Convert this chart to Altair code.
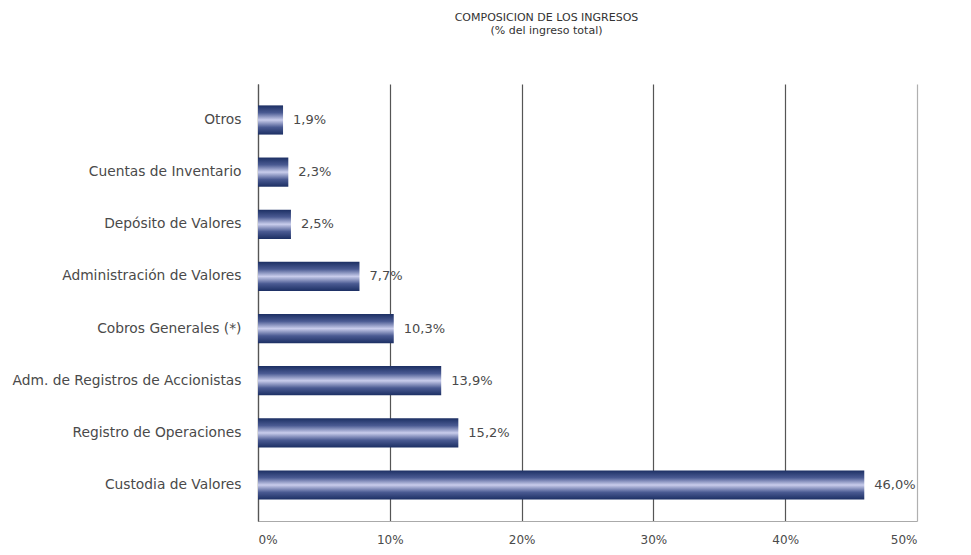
import altair as alt
import pandas as pd

categories = [
    "Otros",
    "Cuentas de Inventario",
    "Depósito de Valores",
    "Administración de Valores",
    "Cobros Generales (*)",
    "Adm. de Registros de Accionistas",
    "Registro de Operaciones",
    "Custodia de Valores",
]
values = [1.9, 2.3, 2.5, 7.7, 10.3, 13.9, 15.2, 46.0]
labels = ["1,9%", "2,3%", "2,5%", "7,7%", "10,3%", "13,9%", "15,2%", "46,0%"]
x_ticks = [0, 10, 20, 30, 40, 50]

df = pd.DataFrame({"cat": categories, "val": values, "lab": labels})

FONT = "DejaVu Sans, sans-serif"
TXT = "#4a4a4a"

y_enc = alt.Y(
    "cat:N",
    sort=categories,
    title=None,
    scale=alt.Scale(paddingInner=0.44, paddingOuter=0.41),
    axis=alt.Axis(
        domain=True, domainColor="#555555", domainWidth=1.2,
        ticks=False, labelPadding=17, labelFont=FONT, labelFontSize=13.8,
        labelColor=TXT, grid=False, labelLimit=300,
    ),
)

x_enc = alt.X(
    "val:Q",
    title=None,
    scale=alt.Scale(domain=[0, 50], nice=False),
    axis=alt.Axis(
        values=x_ticks,
        labelExpr="datum.value + '%'",
        domain=True, domainColor="#aaaaaa", domainWidth=1.2,
        ticks=False, labelPadding=13, labelFont=FONT, labelFontSize=12,
        labelColor=TXT,
        grid=True,
        gridColor=alt.condition(alt.datum.value == 50, alt.value("#b0b0b0"), alt.value("#555555")),
        gridWidth=1.2,
    ),
)

grad = alt.Gradient(
    gradient="linear",
    x1=0, x2=0, y1=0, y2=1,
    stops=[
        alt.GradientStop(color="#1c2f63", offset=0),
        alt.GradientStop(color="#4a5a92", offset=0.25),
        alt.GradientStop(color="#c9cdec", offset=0.5),
        alt.GradientStop(color="#4a5a92", offset=0.75),
        alt.GradientStop(color="#1c2f63", offset=1),
    ],
)

bars = alt.Chart(df).mark_bar(color=grad).encode(y=y_enc, x=x_enc)

text = alt.Chart(df).mark_text(
    align="left", baseline="middle", dx=10, font=FONT, fontSize=13, color=TXT
).encode(y=alt.Y("cat:N", sort=categories), x="val:Q", text="lab:N")

chart = (
    alt.layer(bars, text)
    .properties(
        width=659,
        height=437,
        background="white",
        autosize=alt.AutoSizeParams(type="none"),
        padding={"left": 250, "top": 76, "right": 46, "bottom": 26},
        title=alt.TitleParams(
            text=["COMPOSICION DE LOS INGRESOS", "(% del ingreso total)"],
            anchor="middle",
            dx=-41,
            offset=48,
            font=FONT,
            fontSize=11,
            fontWeight="normal",
            color="#333333",
            lineHeight=13,
            align="center",
        ),
    )
    .configure_view(strokeWidth=0, strokeOpacity=0)
)

chart.save("out.html", embed_options={"renderer": "svg", "actions": False})
